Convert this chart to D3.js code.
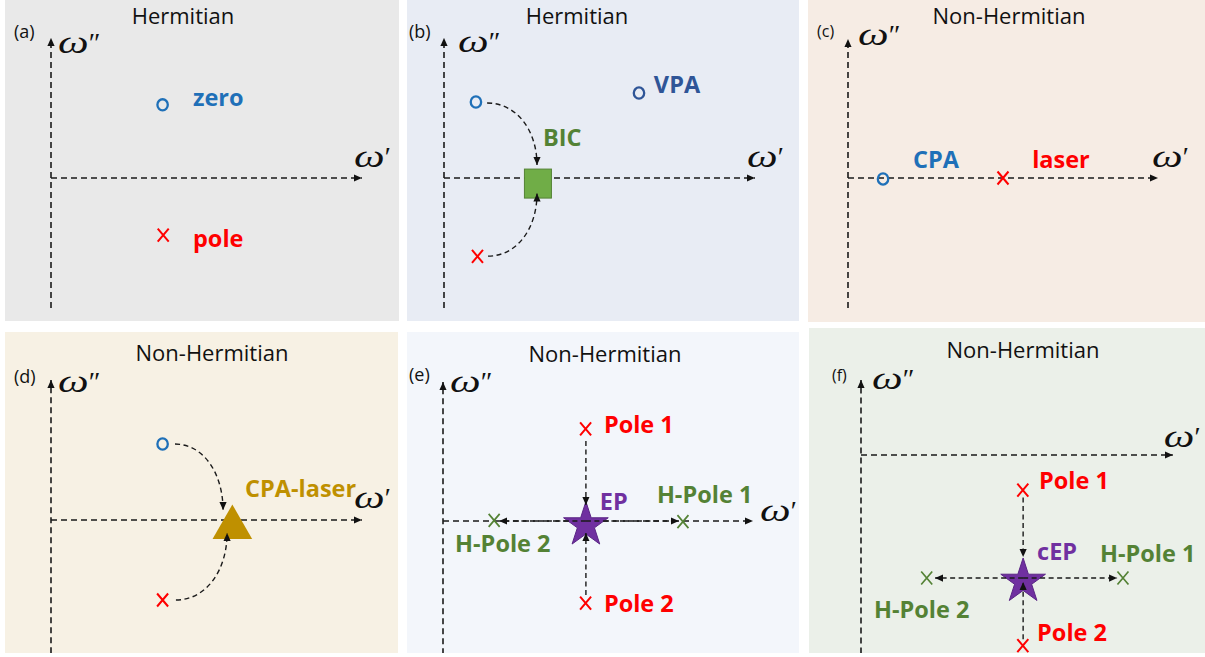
<!DOCTYPE html>
<html>
<head>
<meta charset="utf-8">
<script src="https://cdn.jsdelivr.net/npm/d3@7"></script>
<style>
  body { margin: 0; background: #fff; }
  svg { display: block; }
</style>
</head>
<body>
<script>
// panel ids / titles
const panelIds = ['a', 'b', 'c', 'd', 'e', 'f'];
const panelTitles = ['Hermitian', 'Hermitian', 'Non-Hermitian', 'Non-Hermitian', 'Non-Hermitian', 'Non-Hermitian'];

// axis extents in (omega', omega'') units, per panel
const axisTip = [10.03, 10.03, 10.0, 10.03, 10.0, 10.06];
const axisTop = [4.52, 4.52, 4.48, 4.52, 4.48, 2.42];
const axisBottom = [-4.19, -4.19, -4.19, -4.3, -4.3, -6.4];

// zeros (o marks)
const zeros = [
  { p: 'a', re: 3.6, im: 2.36 },
  { p: 'b', re: 1.03, im: 2.45 },
  { p: 'b', re: 6.29, im: 2.74, dark: true },
  { p: 'c', re: 1.13, im: -0.03 },
  { p: 'd', re: 3.6, im: 2.45 },
];

// poles (x marks)
const poles = [
  { p: 'a', re: 3.62, im: -1.84 },
  { p: 'b', re: 1.08, im: -2.53 },
  { p: 'c', re: 5.0, im: 0 },
  { p: 'd', re: 3.6, im: -2.58 },
  { p: 'e', re: 4.6, im: 2.97 },
  { p: 'e', re: 4.6, im: -2.65 },
  { p: 'f', re: 5.22, im: -1.13 },
  { p: 'f', re: 5.22, im: -6.15 },
];

// hermitian poles (green x marks)
const hPoles = [
  { p: 'e', re: 1.65, im: 0.02 },
  { p: 'e', re: 7.74, im: -0.02 },
  { p: 'f', re: 2.12, im: -3.97 },
  { p: 'f', re: 8.45, im: -3.97 },
];

// special points
const bics = [{ p: 'b', re: 3.03, im: -0.18 }];
const cpaLasers = [{ p: 'd', re: 5.85, im: -0.24 }];
const eps = [
  { p: 'e', re: 4.61, im: -0.13 },
  { p: 'f', re: 5.23, im: -4.08 },
];

// dashed arrows between points
const arrows = [
  { p: 'b', from: [1.39, 2.42], to: [3.0, 0.42], curved: true },
  { p: 'b', from: [1.42, -2.52], to: [3.0, -0.5], curved: true },
  { p: 'd', from: [4.0, 2.45], to: [5.55, 0.32], curved: true },
  { p: 'd', from: [4.03, -2.58], to: [5.68, -0.42], curved: true },
  { p: 'e', from: [4.61, 2.58], to: [4.61, 0.52] },
  { p: 'e', from: [4.61, -2.39], to: [4.61, -0.39] },
  { p: 'e', from: [4.61, 0], to: [1.81, 0] },
  { p: 'e', from: [4.61, 0], to: [7.61, 0] },
  { p: 'f', from: [5.23, -1.37], to: [5.23, -3.29] },
  { p: 'f', from: [5.23, -5.94], to: [5.23, -4.1] },
  { p: 'f', from: [5.23, -3.97], to: [2.39, -3.97] },
  { p: 'f', from: [5.23, -3.97], to: [8.26, -3.97] },
];

// text labels (left edge, baseline)
const labels = [
  { p: 'a', text: 'zero', re: 4.58, im: 2.32, kind: 'zero' },
  { p: 'a', text: 'pole', re: 4.58, im: -2.23, kind: 'pole' },
  { p: 'b', text: 'BIC', re: 3.19, im: 1.03, kind: 'green' },
  { p: 'b', text: 'VPA', re: 6.77, im: 2.74, kind: 'vpa' },
  { p: 'c', text: 'CPA', re: 2.1, im: 0.32, kind: 'zero' },
  { p: 'c', text: 'laser', re: 5.94, im: 0.32, kind: 'pole' },
  { p: 'd', text: 'CPA-laser', re: 6.26, im: 0.74, kind: 'gold' },
  { p: 'e', text: 'Pole 1', re: 5.19, im: 2.84, kind: 'pole' },
  { p: 'e', text: 'Pole 2', re: 5.19, im: -2.94, kind: 'pole' },
  { p: 'e', text: 'EP', re: 5.06, im: 0.35, kind: 'ep' },
  { p: 'e', text: 'H-Pole 1', re: 6.9, im: 0.58, kind: 'green' },
  { p: 'e', text: 'H-Pole 2', re: 0.39, im: -1.0, kind: 'green' },
  { p: 'f', text: 'Pole 1', re: 5.74, im: -1.1, kind: 'pole' },
  { p: 'f', text: 'cEP', re: 5.68, im: -3.39, kind: 'ep' },
  { p: 'f', text: 'H-Pole 1', re: 7.71, im: -3.45, kind: 'green' },
  { p: 'f', text: 'H-Pole 2', re: 0.42, im: -5.26, kind: 'green' },
  { p: 'f', text: 'Pole 2', re: 5.68, im: -6.0, kind: 'pole' },
];

// ---- layout ----
const W = 1205, H = 657;
const unit = 31;
const layout = {
  a: { x: 5, y: 0, w: 394, h: 321, bg: '#e9e9e9', ox: 51, oy: 178, title: [183, 24], lab: [14, 38], wpp: [58, 53], wp: [-8, -11] },
  b: { x: 407, y: 0, w: 392, h: 321, bg: '#e8ecf4', ox: 444, oy: 178, title: [577, 24], lab: [409, 38], wpp: [458, 52], wp: [-8, -11] },
  c: { x: 808, y: 0, w: 397, h: 322, bg: '#f6ece4', ox: 848, oy: 178, title: [1009, 24], lab: [817, 37], wpp: [858, 45], wp: [-6, -11] },
  d: { x: 5, y: 332, w: 393, h: 321, bg: '#f7f1e4', ox: 51, oy: 520, title: [212, 361], lab: [14, 383], wpp: [58, 392], wp: [-8, -12] },
  e: { x: 407, y: 332, w: 392, h: 321, bg: '#f3f6fb', ox: 443, oy: 521, title: [605, 362], lab: [409, 381], wpp: [450, 392], wp: [7, 0] },
  f: { x: 809, y: 328, w: 396, h: 325, bg: '#ebf0e9', ox: 861, oy: 455, title: [1023, 358], lab: [832, 381], wpp: [872, 389], wp: [-9, -8] },
};

const colors = {
  zero: '#1f70b8', vpa: '#2f5597', pole: '#ff0000', green: '#548235',
  gold: '#bf9000', ep: '#7030a0', bic: '#70ad47'
};

const svg = d3.select('body').append('svg')
  .attr('width', W)
  .attr('height', H);

svg.append('rect').attr('width', W).attr('height', H).attr('fill', '#fff');

const defs = svg.append('defs');
defs.append('marker')
  .attr('id', 'arrow')
  .attr('viewBox', '0 -5 10 10')
  .attr('refX', 10)
  .attr('refY', 0)
  .attr('markerUnits', 'userSpaceOnUse')
  .attr('markerWidth', 8)
  .attr('markerHeight', 8)
  .attr('orient', 'auto')
  .append('path')
  .attr('d', 'M0,-4.5L10,0L0,4.5Z')
  .attr('fill', '#111');

const dash = '6,4';

panelIds.forEach((id, i) => {
  const L = layout[id];
  const x = d3.scaleLinear().domain([0, 1]).range([L.ox, L.ox + unit]);
  const y = d3.scaleLinear().domain([0, 1]).range([L.oy, L.oy - unit]);

  defs.append('clipPath').attr('id', 'clip-' + id)
    .append('rect').attr('x', L.x).attr('y', L.y).attr('width', L.w).attr('height', L.h);

  const g = svg.append('g').attr('clip-path', `url(#clip-${id})`);

  g.append('rect')
    .attr('x', L.x).attr('y', L.y)
    .attr('width', L.w).attr('height', L.h)
    .attr('fill', L.bg);

  // panel label
  g.append('text')
    .attr('x', L.lab[0]).attr('y', L.lab[1])
    .attr('font-family', 'Open Sans, Noto Sans, sans-serif')
    .attr('font-size', id === 'c' || id === 'f' ? 16 : 18)
    .attr('fill', '#111')
    .text(`(${id})`);

  // axes
  g.append('line')
    .attr('x1', x(0)).attr('y1', y(axisBottom[i]))
    .attr('x2', x(0)).attr('y2', y(axisTop[i]))
    .attr('stroke', '#1a1a1a').attr('stroke-width', 1.6)
    .attr('stroke-dasharray', dash)
    .attr('marker-end', 'url(#arrow)');

  g.append('line')
    .attr('x1', x(0)).attr('y1', y(0))
    .attr('x2', x(axisTip[i])).attr('y2', y(0))
    .attr('stroke', '#1a1a1a').attr('stroke-width', 1.6)
    .attr('stroke-dasharray', dash)
    .attr('marker-end', 'url(#arrow)');

  // omega labels: stretched omega + prime(s)
  const omega = (px, py, primes) => {
    g.append('text')
      .attr('transform', `translate(${px},${py}) scale(1.4,1)`)
      .attr('font-family', 'Liberation Serif, DejaVu Serif, serif')
      .attr('font-style', 'italic')
      .attr('font-size', 31)
      .attr('fill', '#111')
      .text('\u03c9');
    g.append('text')
      .attr('x', px + 29).attr('y', py - 1)
      .attr('font-family', 'Liberation Serif, DejaVu Serif, serif')
      .attr('font-style', 'italic')
      .attr('font-size', 28)
      .attr('fill', '#111')
      .text(primes);
  };
  omega(L.wpp[0], L.wpp[1], '\u2033');
  omega(x(axisTip[i]) + L.wp[0], y(0) + L.wp[1], '\u2032');

  // shapes
  bics.filter(d => d.p === id).forEach(d => {
    g.append('rect')
      .attr('x', x(d.re) - 13.5).attr('y', y(d.im) - 14.5)
      .attr('width', 27).attr('height', 29)
      .attr('fill', colors.bic)
      .attr('stroke', '#548235').attr('stroke-width', 1);
  });

  cpaLasers.filter(d => d.p === id).forEach(d => {
    g.append('path')
      .attr('transform', `translate(${x(d.re)},${y(d.im)})`)
      .attr('d', d3.symbol().type(d3.symbolTriangle).size(680)())
      .attr('fill', colors.gold);
  });

  eps.filter(d => d.p === id).forEach(d => {
    g.append('path')
      .attr('transform', `translate(${x(d.re)},${y(d.im)})`)
      .attr('d', d3.symbol().type(d3.symbolStar).size(620)())
      .attr('fill', colors.ep)
      .attr('stroke', '#5a2585').attr('stroke-width', 1);
  });

  // arrows
  arrows.filter(d => d.p === id).forEach(d => {
    const x0 = x(d.from[0]), y0 = y(d.from[1]);
    const x1 = x(d.to[0]), y1 = y(d.to[1]);
    const path = d3.path();
    path.moveTo(x0, y0);
    if (d.curved) {
      path.bezierCurveTo(x0 + 0.6 * (x1 - x0), y0, x1, y1 + 0.55 * (y0 - y1), x1, y1);
    } else {
      path.lineTo(x1, y1);
    }
    g.append('path')
      .attr('d', path.toString())
      .attr('fill', 'none')
      .attr('stroke', '#1a1a1a').attr('stroke-width', 1.4)
      .attr('stroke-dasharray', '5,3.5')
      .attr('marker-end', 'url(#arrow)');
  });

  // zeros
  zeros.filter(d => d.p === id).forEach(d => {
    g.append('ellipse')
      .attr('cx', x(d.re)).attr('cy', y(d.im))
      .attr('rx', 5.2).attr('ry', 5.6)
      .attr('fill', 'none')
      .attr('stroke', d.dark ? colors.vpa : colors.zero)
      .attr('stroke-width', 2.3);
  });

  // poles & hermitian poles
  const cross = (d, color, w) => {
    const cx = x(d.re), cy = y(d.im);
    g.append('path')
      .attr('d', `M${cx - 5.5},${cy - 6.5}L${cx + 5.5},${cy + 6.5}M${cx + 5.5},${cy - 6.5}L${cx - 5.5},${cy + 6.5}`)
      .attr('stroke', color).attr('stroke-width', w).attr('fill', 'none');
  };
  poles.filter(d => d.p === id).forEach(d => cross(d, colors.pole, 2));
  hPoles.filter(d => d.p === id).forEach(d => cross(d, colors.green, 1.7));

  // labels
  labels.filter(d => d.p === id).forEach(d => {
    g.append('text')
      .attr('x', x(d.re)).attr('y', y(d.im))
      .attr('font-family', 'Open Sans, Noto Sans, sans-serif')
      .attr('font-weight', 700)
      .attr('font-size', 23.5)
      .attr('fill', colors[d.kind])
      .text(d.text);
  });
});

// titles drawn outside the clipped groups so nothing gets cut
panelIds.forEach((id, i) => {
  const L = layout[id];
  svg.append('text')
    .attr('x', L.title[0]).attr('y', L.title[1])
    .attr('text-anchor', 'middle')
    .attr('font-family', 'Open Sans, Noto Sans, sans-serif')
    .attr('font-size', 22)
    .attr('fill', '#111')
    .text(panelTitles[i]);
});
</script>
</body>
</html>
